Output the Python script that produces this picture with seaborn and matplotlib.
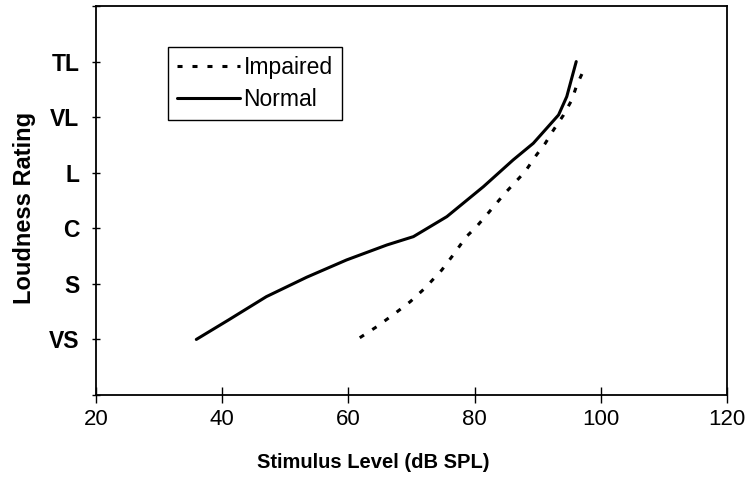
import pandas as pd
import seaborn as sns
import matplotlib.pyplot as plt

# Loudness growth curves (rating positions: VS=1 ... TL=6)
normal_x = [35.9, 41.0, 47.0, 53.4, 59.7, 66.1, 70.3, 75.6, 81.4, 86.1, 89.3, 93.3, 94.6, 96.1]
normal_y = [1.00, 1.35, 1.77, 2.12, 2.43, 2.70, 2.85, 3.21, 3.75, 4.23, 4.53, 5.04, 5.37, 6.00]

impaired_x = [61.8, 64.5, 67.4, 69.8, 72.1, 74.8, 76.4, 78.7, 80.3, 81.9,
              84.8, 88.0, 89.8, 91.2, 92.5, 94.1, 95.4, 96.2, 97.3]
impaired_y = [1.03, 1.23, 1.47, 1.68, 1.92, 2.25, 2.49, 2.85, 3.03, 3.24,
              3.63, 4.02, 4.32, 4.53, 4.77, 5.04, 5.31, 5.58, 5.85]

rating_labels = ["", "VS", "S", "C", "L", "VL", "TL", ""]
x_ticks = [20, 40, 60, 80, 100, 120]

df = pd.concat([
    pd.DataFrame({"level": impaired_x, "rating": impaired_y, "group": "Impaired"}),
    pd.DataFrame({"level": normal_x, "rating": normal_y, "group": "Normal"}),
], ignore_index=True)

sns.set_style("ticks")
plt.rcParams["font.family"] = ["Liberation Sans", "DejaVu Sans"]
plt.rcParams.update({"text.color": "black", "axes.labelcolor": "black",
                     "xtick.color": "black", "ytick.color": "black"})

fig = plt.figure(figsize=(7.48, 4.82), dpi=100)
ax = fig.add_axes([0.1283, 0.1805, 0.8437, 0.807])

sns.lineplot(data=df, x="level", y="rating", hue="group", style="group",
             palette={"Impaired": "black", "Normal": "black"},
             dashes={"Impaired": (1.65, 3.25), "Normal": ""},
             sort=False, estimator=None, linewidth=2.2, ax=ax)

ax.set_xlim(20, 120)
ax.set_ylim(0, 7)
ax.set_xticks(x_ticks)
ax.set_yticks(range(len(rating_labels)))
ax.set_yticklabels(rating_labels, fontweight="bold", fontsize=16.5)
ax.tick_params(axis="x", labelsize=16, direction="inout", length=11.5, width=1, pad=4)
ax.tick_params(axis="y", direction="inout", length=6, width=1, pad=9)

for s in ax.spines.values():
    s.set_color("black")
    s.set_linewidth(1.3)

ax.set_xlabel("Stimulus Level (dB SPL)", fontsize=14.5, fontweight="bold")
ax.xaxis.set_label_coords(0.44, -0.15)
ax.set_ylabel("Loudness Rating", fontsize=17, fontweight="bold", labelpad=9)
ax.yaxis.label.set_y(0.48)

leg = ax.legend(loc="upper left", bbox_to_anchor=(0.114, 0.895), borderaxespad=0,
                fontsize=16.5, handlelength=2.75, handletextpad=0.15,
                fancybox=False, framealpha=1, borderpad=0.4, labelspacing=0.4)
leg.get_frame().set_edgecolor("black")
leg.get_frame().set_linewidth(1)

plt.savefig("out.png", dpi=100)
